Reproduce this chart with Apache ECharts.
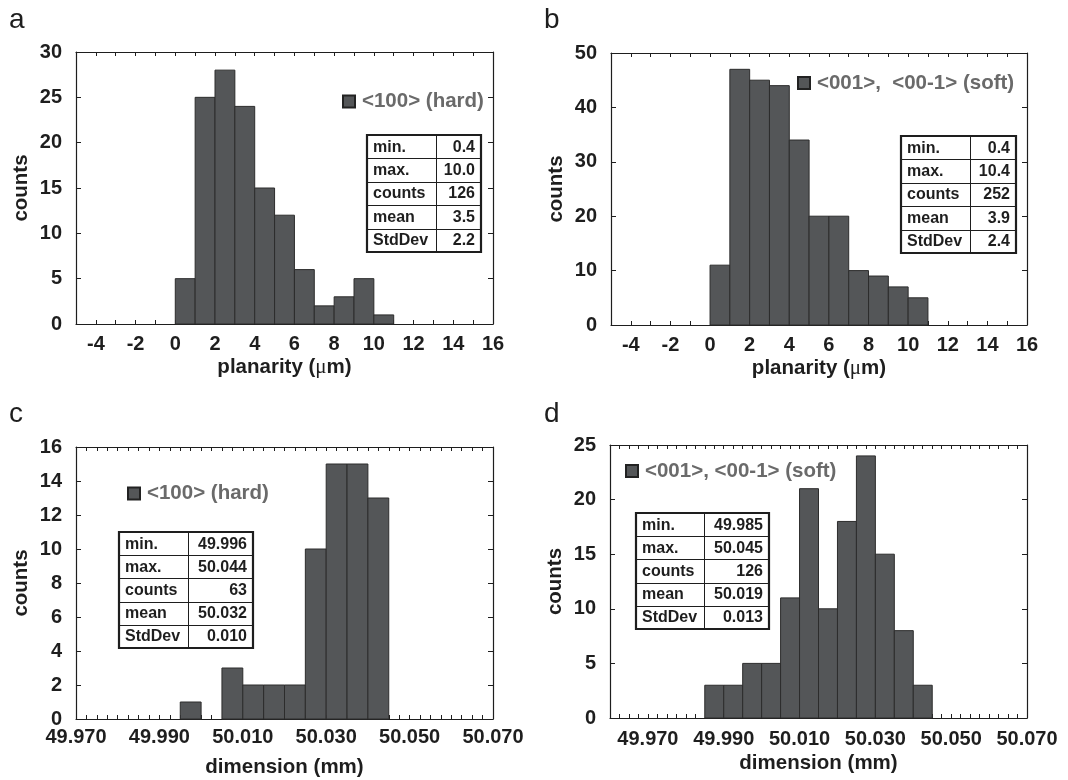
<!DOCTYPE html>
<html>
<head>
<meta charset="utf-8">
<script src="https://cdn.jsdelivr.net/npm/echarts@6/dist/echarts.min.js"></script>
<style>
html,body{margin:0;padding:0;background:#fff;}
#chart{width:1068px;height:780px;}
</style>
</head>
<body>
<div id="chart"></div>
<script>
// ---------- DATA ----------
const panelLetters = ['a', 'b', 'c', 'd'];

// Panel a: planarity, <100> (hard)
const binStartA = [0, 1, 2, 3, 4, 5, 6, 7, 8, 9, 10];
const countsA   = [5, 25, 28, 24, 15, 12, 6, 2, 3, 5, 1];
const binWidthA = 1;

// Panel b: planarity, <001>, <00-1> (soft)
const binStartB = [0, 1, 2, 3, 4, 5, 6, 7, 8, 9, 10];
const countsB   = [11, 47, 45, 44, 34, 20, 20, 10, 9, 7, 5];
const binWidthB = 1;

// Panel c: dimension, <100> (hard)
const binStartC = [49.995, 50.000, 50.005, 50.010, 50.015, 50.020, 50.025, 50.030, 50.035, 50.040];
const countsC   = [1, 0, 3, 2, 2, 2, 10, 15, 15, 13];
const binWidthC = 0.005;

// Panel d: dimension, <001>, <00-1> (soft)
const binStartD = [49.985, 49.990, 49.995, 50.000, 50.005, 50.010, 50.015, 50.020, 50.025, 50.030, 50.035, 50.040];
const countsD   = [3, 3, 5, 5, 11, 21, 10, 18, 24, 15, 8, 3];
const binWidthD = 0.005;

const seriesNames = ['<100> (hard)', '<001>,  <00-1> (soft)', '<100> (hard)', '<001>, <00-1> (soft)'];

const xTickLabelsPlanarity = ['-4', '-2', '0', '2', '4', '6', '8', '10', '12', '14', '16'];
const xTickLabelsDimension = ['49.970', '49.990', '50.010', '50.030', '50.050', '50.070'];

const tableLabels = ['min.', 'max.', 'counts', 'mean', 'StdDev'];
const statsA = ['0.4', '10.0', '126', '3.5', '2.2'];
const statsB = ['0.4', '10.4', '252', '3.9', '2.4'];
const statsC = ['49.996', '50.044', '63', '50.032', '0.010'];
const statsD = ['49.985', '50.045', '126', '50.019', '0.013'];

// ---------- LAYOUT / STYLE ----------
const FONT = 'Liberation Sans';
const INK = '#1e1e1e';
const BAR = '#545658';
const BAR_EDGE = '#2c2c2c';

const grids = [
  {left: 76,  top: 52,  width: 417, height: 272},
  {left: 611, top: 53,  width: 416, height: 272},
  {left: 76,  top: 447, width: 417, height: 272},
  {left: 610, top: 445, width: 417, height: 273}
];

const xCfg = [
  {min: -5, max: 16, interval: 1, labels: xTickLabelsPlanarity, margin: 10, name: 'planarity ({mu|μ}m)', gap: 33},
  {min: -5, max: 16, interval: 1, labels: xTickLabelsPlanarity, margin: 10, name: 'planarity ({mu|μ}m)', gap: 33},
  {min: 49.970, max: 50.070, interval: 0.0025, labels: xTickLabelsDimension, margin: 8, name: 'dimension (mm)', gap: 38},
  {min: 49.960, max: 50.070, interval: 0.0025, labels: xTickLabelsDimension, margin: 11, name: 'dimension (mm)', gap: 35}
];
const yCfg = [
  {max: 30, interval: 5},
  {max: 50, interval: 10},
  {max: 16, interval: 2},
  {max: 25, interval: 5}
];

const labelStyle = {fontFamily: FONT, fontWeight: 'bold', fontSize: 20, color: INK};
const nameStyle = {fontFamily: FONT, fontWeight: 'bold', fontSize: 20.5, color: INK,
  rich: {mu: {fontFamily: 'Liberation Serif', fontWeight: 'normal', fontSize: 21, color: INK}}};

const xAxes = [], yAxes = [];
grids.forEach((g, i) => {
  const c = xCfg[i];
  const fmt = function (v) {
    for (const s of c.labels) { if (Math.abs(parseFloat(s) - v) < 1e-7) return s; }
    return '';
  };
  xAxes.push({
    type: 'value', gridIndex: i, position: 'bottom', min: c.min, max: c.max, interval: c.interval,
    axisLine: {show: true, onZero: false, lineStyle: {color: INK, width: 1.2}},
    axisTick: {show: true, inside: true, length: 4, lineStyle: {color: INK}},
    axisLabel: Object.assign({show: true, margin: c.margin, formatter: fmt, showMinLabel: true, showMaxLabel: true}, labelStyle),
    splitLine: {show: false},
    name: c.name, nameLocation: 'middle', nameGap: c.gap, nameTextStyle: nameStyle
  });
  xAxes.push({
    type: 'value', gridIndex: i, position: 'top', min: c.min, max: c.max, interval: c.interval,
    axisLine: {show: true, onZero: false, lineStyle: {color: INK, width: 1.2}},
    axisTick: {show: true, inside: true, length: 4, lineStyle: {color: INK}},
    axisLabel: {show: false}, splitLine: {show: false}
  });
  const y = yCfg[i];
  yAxes.push({
    type: 'value', gridIndex: i, position: 'left', min: 0, max: y.max, interval: y.interval,
    axisLine: {show: true, onZero: false, lineStyle: {color: INK, width: 1.2}},
    axisTick: {show: true, inside: true, length: 5, lineStyle: {color: INK}},
    axisLabel: Object.assign({margin: 14}, labelStyle),
    splitLine: {show: false},
    name: 'counts', nameLocation: 'middle', nameGap: 44, nameTextStyle: nameStyle
  });
  yAxes.push({
    type: 'value', gridIndex: i, position: 'right', min: 0, max: y.max, interval: y.interval,
    axisLine: {show: true, onZero: false, lineStyle: {color: INK, width: 1.2}},
    axisTick: {show: true, inside: true, length: 5, lineStyle: {color: INK}},
    axisLabel: {show: false}, splitLine: {show: false}
  });
});

function histSeries(i, starts, counts, width) {
  return {
    type: 'custom', name: seriesNames[i],
    xAxisIndex: i * 2, yAxisIndex: i * 2,
    itemStyle: {color: BAR, borderColor: '#222', borderWidth: 2},
    data: starts.map((s, k) => [s, s + width, counts[k]]),
    encode: {x: [0, 1], y: 2},
    clip: false,
    renderItem: function (params, api) {
      const h = api.value(2);
      if (!h) return null;
      const p0 = api.coord([api.value(0), 0]);
      const p1 = api.coord([api.value(1), h]);
      return {
        type: 'rect',
        shape: {x: p0[0], y: p1[1], width: p1[0] - p0[0], height: p0[1] - p1[1]},
        style: {fill: BAR, stroke: BAR_EDGE, lineWidth: 1}
      };
    }
  };
}

const series = [
  histSeries(0, binStartA, countsA, binWidthA),
  histSeries(1, binStartB, countsB, binWidthB),
  histSeries(2, binStartC, countsC, binWidthC),
  histSeries(3, binStartD, countsD, binWidthD)
];

const legendPos = [
  {left: 342, top: 91},
  {left: 797, top: 72.5},
  {left: 127, top: 483},
  {left: 625, top: 460.5}
];
const legends = legendPos.map((p, i) => ({
  data: [seriesNames[i]], left: p.left, top: p.top, padding: 0,
  icon: 'rect', itemWidth: 12, itemHeight: 12, itemGap: 8,
  itemStyle: {color: BAR, borderColor: '#222', borderWidth: 2},
  textStyle: {fontFamily: FONT, fontWeight: 'bold', fontSize: 20.5, color: '#6a6a6a', padding: [0, 0, 0, 2]},
  selectedMode: false
}));

// ---------- TABLES ----------
function makeTable(x0, y0, x1, y1, xd, values) {
  const els = [];
  const rowH = (y1 - y0) / tableLabels.length;
  els.push({type: 'rect', shape: {x: x0, y: y0, width: x1 - x0, height: y1 - y0},
    style: {fill: '#fff', stroke: INK, lineWidth: 2.2}, z: 10});
  for (let r = 1; r < tableLabels.length; r++) {
    const yy = Math.round(y0 + r * rowH) + 0.5;
    els.push({type: 'line', shape: {x1: x0, y1: yy, x2: x1, y2: yy},
      style: {stroke: INK, lineWidth: 1}, z: 11});
  }
  els.push({type: 'line', shape: {x1: xd + 0.5, y1: y0, x2: xd + 0.5, y2: y1},
    style: {stroke: INK, lineWidth: 1}, z: 11});
  tableLabels.forEach((lab, r) => {
    const cy = y0 + (r + 0.5) * rowH + 0.5;
    els.push({type: 'text', z: 12, style: {x: x0 + 6, y: cy, text: lab, textAlign: 'left', textVerticalAlign: 'middle',
      font: 'bold 16px "' + FONT + '"', fill: INK}});
    els.push({type: 'text', z: 12, style: {x: x1 - 6, y: cy, text: values[r], textAlign: 'right', textVerticalAlign: 'middle',
      font: 'bold 16px "' + FONT + '"', fill: INK}});
  });
  return els;
}

const letterPos = [[9, 20], [544, 20], [9, 414], [544, 414]];
const graphic = [];
letterPos.forEach((p, i) => {
  graphic.push({type: 'text', style: {x: p[0], y: p[1], text: panelLetters[i], textVerticalAlign: 'middle',
    font: '28px "Liberation Sans"', fill: INK}});
});
graphic.push(...makeTable(367, 135, 481, 252, 436, statsA));
graphic.push(...makeTable(901, 136, 1016, 253, 970, statsB));
graphic.push(...makeTable(119, 532, 253, 648, 188, statsC));
graphic.push(...makeTable(636, 513, 769, 629, 704, statsD));

const chart = echarts.init(document.getElementById('chart'), null, {renderer: 'canvas'});
chart.setOption({
  animation: false,
  backgroundColor: '#fff',
  grid: grids,
  xAxis: xAxes,
  yAxis: yAxes,
  legend: legends,
  series: series,
  graphic: graphic
});
</script>
</body>
</html>
